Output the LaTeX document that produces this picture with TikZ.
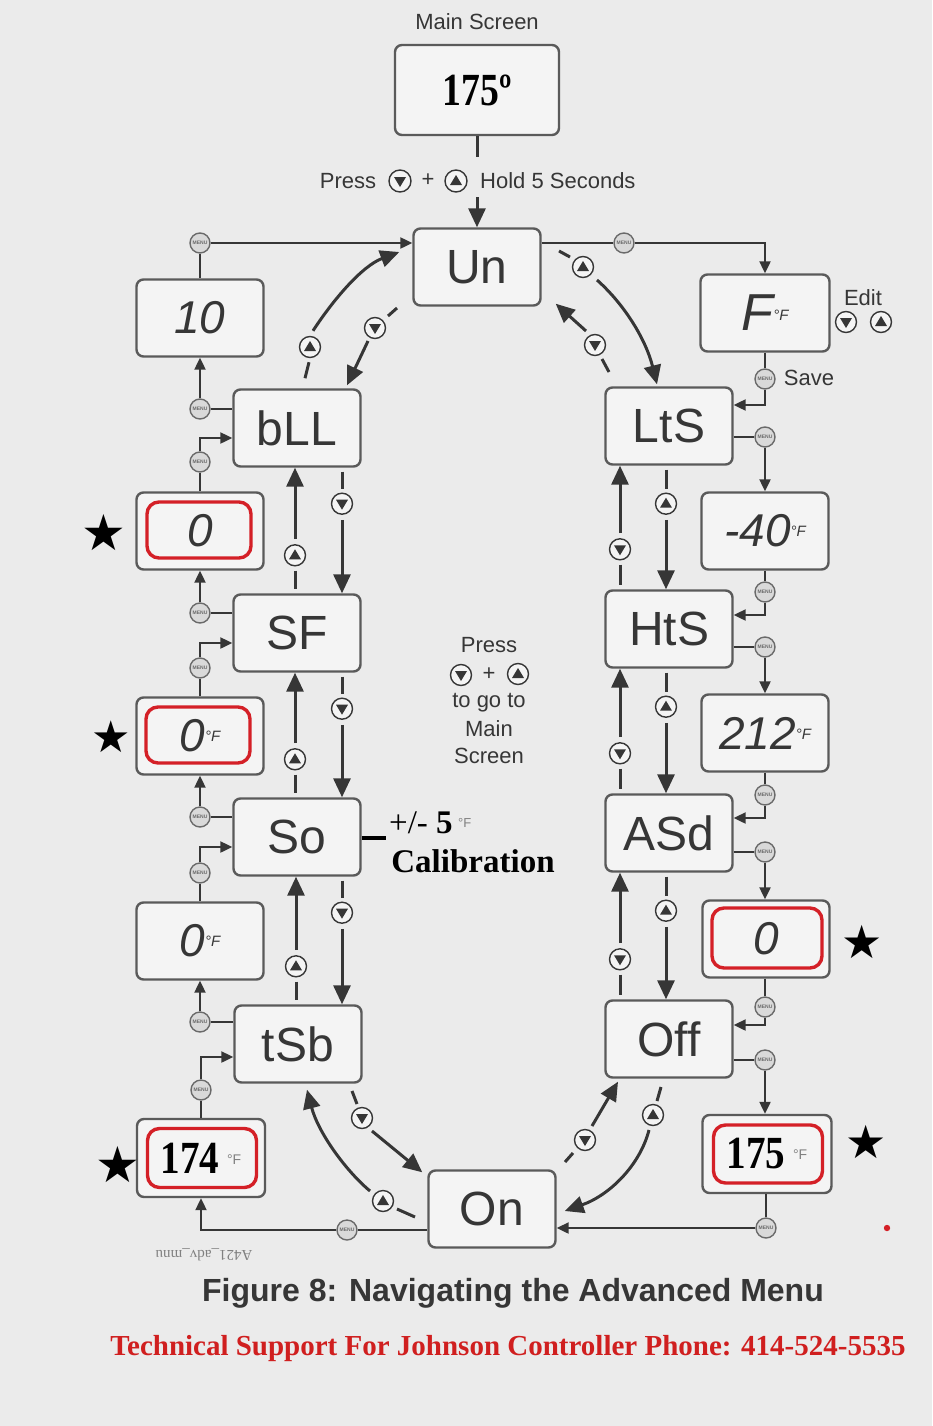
\documentclass[tikz,border=0pt]{standalone}
\usepackage{fontspec}
\setmainfont{Liberation Serif}
\setsansfont{Liberation Sans}
\newfontfamily\symfont{DejaVu Sans}
\usetikzlibrary{arrows.meta,calc}
\definecolor{ink}{HTML}{363636}
\definecolor{boxline}{HTML}{5A5A5A}
\definecolor{paper}{HTML}{EBEBEB}
\definecolor{boxfill}{HTML}{F4F4F4}
\definecolor{redbox}{HTML}{D42027}
\definecolor{escline}{HTML}{6A6A6A}
\definecolor{escfill}{HTML}{D9D9D9}
\definecolor{redtext}{HTML}{D01F1F}
\newcommand\degF{{\fontsize{15}{15}\selectfont\raisebox{10pt}{°F}}}
\newcommand\degFg{{\sffamily\mdseries\upshape\fontsize{14}{14}\selectfont\color{gray}\raisebox{9pt}{°F}}}
\tikzset{
  screen/.style={draw=boxline, line width=2.4pt, rounded corners=7pt, fill=boxfill,
    minimum width=127pt, minimum height=77pt, inner sep=0pt, text=ink,
    font=\sffamily\fontsize{48}{48}\selectfont},
  valbox/.style={screen, font=\sffamily\itshape\fontsize{46}{46}\selectfont},
  serifval/.style={screen, text=black, font=\rmfamily\bfseries\fontsize{46}{46}\selectfont},
  redframe/.style={draw=redbox, line width=3.4pt, rounded corners=12pt,
    minimum width=104pt, minimum height=56pt, inner sep=0pt},
  escicon/.style={circle, draw=escline, line width=1.4pt, fill=escfill, minimum size=20pt,
    inner sep=0pt, font=\sffamily\bfseries\fontsize{5}{5}\selectfont, text=escline},
  btn/.style={circle, draw=ink, line width=1.4pt, fill=boxfill, minimum size=21pt, inner sep=0pt},
  btnup/.style={btn, path picture={\fill[ink]
      ($(path picture bounding box.center)+(-6,4)$) --
      ($(path picture bounding box.center)+(6,4)$) --
      ($(path picture bounding box.center)+(0,-6)$) -- cycle;}},
  btndown/.style={btn, path picture={\fill[ink]
      ($(path picture bounding box.center)+(-6,-4)$) --
      ($(path picture bounding box.center)+(6,-4)$) --
      ($(path picture bounding box.center)+(0,6)$) -- cycle;}},
  bigarrow/.style={draw=ink, line width=3pt, -{Triangle[length=19pt,width=17pt]}},
  wire/.style={draw=ink, line width=2.2pt},
  wirearrow/.style={wire, -{Triangle[length=12pt,width=11pt]}},
  dashbit/.style={draw=ink, line width=3pt},
  lbl/.style={font=\sffamily\fontsize{22}{22}\selectfont, text=ink, inner sep=0pt},
  starmark/.style={font=\symfont\fontsize{50}{50}\selectfont, inner sep=0pt, text=black},
}
\newcommand\leftpair[2]{%
  \node[btnup] (#1#2u) at ($(#2.north)+(-2,-38)$) {};
  \draw[bigarrow, shorten <=5pt] (#1#2u.north) -- (#1.south -| #1#2u);
  \draw[dashbit, shorten <=4pt, shorten >=4pt] (#1#2u.south) -- (#2.north -| #1#2u);
  \node[btndown] (#1#2d) at ($(#1.south)+(45,36)$) {};
  \draw[dashbit, shorten <=4pt, shorten >=4pt] (#1.south -| #1#2d) -- (#1#2d.north);
  \draw[bigarrow, shorten <=5pt] (#1#2d.south) -- (#2.north -| #1#2d);
}
\newcommand\rightpair[2]{%
  \node[btndown] (#1#2u) at ($(#2.north)+(-49,-40)$) {};
  \draw[bigarrow, shorten <=5pt] (#1#2u.north) -- (#1.south -| #1#2u);
  \draw[dashbit, shorten <=4pt, shorten >=4pt] (#1#2u.south) -- (#2.north -| #1#2u);
  \node[btnup] (#1#2d) at ($(#1.south)+(-3,38)$) {};
  \draw[dashbit, shorten <=4pt, shorten >=4pt] (#1.south -| #1#2d) -- (#1#2d.north);
  \draw[bigarrow, shorten <=5pt] (#1#2d.south) -- (#2.north -| #1#2d);
}
\begin{document}
\begin{tikzpicture}[x=1pt,y=-1pt]
\fill[paper] (0,0) rectangle (932,1426);
\useasboundingbox (0,0) rectangle (932,1426);

% main screen
\node[lbl] (mslabel) at (477,22) {Main Screen};
\node[serifval, minimum width=164pt, minimum height=90pt] (main) at (477,90) {\scalebox{0.82}[1]{175º}};
\node[lbl] (presst) at (348,181) {Press};
\node[btndown, minimum size=22pt] (pdn) at (400,181) {};
\node[lbl] (pplus) at (428,180) {+};
\node[btnup, minimum size=22pt] (pup) at (456,181) {};
\node[lbl, anchor=west] (phold) at (480,181) {Hold 5 Seconds};
\coordinate (mtail) at (477,157);
\coordinate (ptail) at (477,197);
\draw[wire, line width=3pt] (main.south) -- (mtail);

% main column boxes
\node[screen] (un) at (477,267) {Un};
\node[screen] (bll) at (297,428) {bLL};
\node[screen] (sf) at (297,633) {SF};
\node[screen] (so) at (297,837) {So};
\node[screen] (tsb) at (298,1044) {tSb};
\node[screen] (onb) at (492,1209) {On};
\node[screen] (lts) at (669,426) {LtS};
\node[screen] (hts) at (669,629) {HtS};
\node[screen] (asd) at (669,833) {ASd};
\node[screen] (offb) at (669,1039) {Off};
\draw[bigarrow] (ptail) -- (un.north);

% left value boxes
\node[valbox] (v10) at (200,318) {10};
\node[valbox] (v0a) at (200,531) {0};
\node[redframe] (r0a) at (199,530) {};
\node[valbox] (v0b) at (200,736) {0\degF};
\node[redframe] (r0b) at (198,735) {};
\node[valbox] (v0c) at (200,941) {0\degF};
\node[serifval, minimum width=128pt, minimum height=78pt] (v174) at (201,1158) {\scalebox{0.85}[1]{174}\,\degFg};
\node[redframe, minimum width=109pt, minimum height=59pt] (r174) at (202,1158) {};

% right value boxes
\node[valbox, minimum width=129pt, font=\sffamily\itshape\fontsize{52}{52}\selectfont] (vF) at (765,313) {F\degF};
\node[valbox] (v40) at (765,531) {-40\degF};
\node[valbox] (v212) at (765,733) {212\degF};
\node[valbox] (v0r) at (766,939) {0};
\node[redframe, minimum width=110pt, minimum height=60pt] (r0r) at (767,938) {};
\node[serifval, minimum width=129pt, minimum height=78pt] (v175) at (767,1154) {\scalebox{0.85}[1]{175}\,\degFg};
\node[redframe, minimum width=109pt, minimum height=58pt] (r175) at (768,1154) {};

% stars
\node[starmark] (s1) at (104,533) {★};
\node[starmark, font=\symfont\fontsize{44}{44}\selectfont] (s2) at (111,737) {★};
\node[starmark, font=\symfont\fontsize{46}{46}\selectfont] (s3) at (862,942) {★};
\node[starmark] (s4) at (118,1165) {★};
\node[starmark, font=\symfont\fontsize{46}{46}\selectfont] (s5) at (866,1142) {★};

% Edit / Save
\node[lbl] (edit) at (863,298) {Edit};
\node[btndown] (edn) at (846,322) {};
\node[btnup] (eup) at (881,322) {};

% ---------------- right chain
\node[escicon] (eR0) at (624,243) {MENU};
\draw[wire] (un.east |- eR0) -- (eR0);
\draw[wirearrow] (eR0) -| (vF.north);
\node[escicon] (eSave) at (765,379) {MENU};
\node[lbl] (savet) at (809,378) {Save};
\draw[wire] (vF.south) -- (eSave);
\draw[wirearrow] (eSave) |- ($(lts.east)+(0,-21)$);
\node[escicon] (eL1) at (765,437) {MENU};
\draw[wire] (lts.east |- eL1) -- (eL1);
\draw[wirearrow] (eL1) -- (v40.north);
\node[escicon] (eL2) at (765,592) {MENU};
\draw[wire] (v40.south) -- (eL2);
\draw[wirearrow] (eL2) |- ($(hts.east)+(0,-14)$);
\node[escicon] (eH1) at (765,647) {MENU};
\draw[wire] (hts.east |- eH1) -- (eH1);
\draw[wirearrow] (eH1) -- (v212.north);
\node[escicon] (eH2) at (765,795) {MENU};
\draw[wire] (v212.south) -- (eH2);
\draw[wirearrow] (eH2) |- ($(asd.east)+(0,-15)$);
\node[escicon] (eA1) at (765,852) {MENU};
\draw[wire] (asd.east |- eA1) -- (eA1);
\draw[wirearrow] (eA1) -- (v0r.north -| eA1);
\node[escicon] (eA2) at (765,1007) {MENU};
\draw[wire] (v0r.south -| eA2) -- (eA2);
\draw[wirearrow] (eA2) |- ($(offb.east)+(0,-14)$);
\node[escicon] (eO1) at (765,1060) {MENU};
\draw[wire] (offb.east |- eO1) -- (eO1);
\draw[wirearrow] (eO1) -- (v175.north -| eO1);
\node[escicon] (eO2) at (766,1228) {MENU};
\draw[wire] (v175.south -| eO2) -- (eO2);
\draw[wirearrow] (eO2) -- (onb.east |- eO2);

% ---------------- left chain
\node[escicon] (eOn) at (347,1230) {MENU};
\draw[wire] (onb.west |- eOn) -- (eOn);
\draw[wirearrow] (eOn) -| (v174.south);
\node[escicon] (eT2) at (201,1090) {MENU};
\draw[wire] (v174.north) -- (eT2);
\draw[wirearrow] (eT2) |- ($(tsb.west)+(0,13)$);
\node[escicon] (eT1) at (200,1022) {MENU};
\draw[wire] (tsb.west |- eT1) -- (eT1);
\draw[wirearrow] (eT1) -- (v0c.south);
\node[escicon] (eS2) at (200,873) {MENU};
\draw[wire] (v0c.north) -- (eS2);
\draw[wirearrow] (eS2) |- ($(so.west)+(0,10)$);
\node[escicon] (eS1) at (200,817) {MENU};
\draw[wire] (so.west |- eS1) -- (eS1);
\draw[wirearrow] (eS1) -- (v0b.south);
\node[escicon] (eF2) at (200,668) {MENU};
\draw[wire] (v0b.north) -- (eF2);
\draw[wirearrow] (eF2) |- ($(sf.west)+(0,10)$);
\node[escicon] (eF1) at (200,613) {MENU};
\draw[wire] (sf.west |- eF1) -- (eF1);
\draw[wirearrow] (eF1) -- (v0a.south);
\node[escicon] (eB2) at (200,462) {MENU};
\draw[wire] (v0a.north) -- (eB2);
\draw[wirearrow] (eB2) |- ($(bll.west)+(0,10)$);
\node[escicon] (eB1) at (200,409) {MENU};
\draw[wire] (bll.west |- eB1) -- (eB1);
\draw[wirearrow] (eB1) -- (v10.south);
\node[escicon] (eTop) at (200,243) {MENU};
\draw[wire] (v10.north) -- (eTop);
\draw[wirearrow] (eTop) -- (un.west |- eTop);

% ---------------- vertical pairs
\leftpair{bll}{sf}
\leftpair{sf}{so}
\leftpair{so}{tsb}
\rightpair{lts}{hts}
\rightpair{hts}{asd}
\rightpair{asd}{offb}

% ---------------- curved arrows: Un - bLL
\node[btnup] (cb1) at (310,347) {};
\draw[dashbit] ($(cb1.south)+(-1,4)$) -- ($(cb1.south)+(-5,20)$);
\draw[bigarrow] ($(cb1.north)+(3,-5)$) .. controls (333,300) and (362,266) .. ($(un.west)+(-13,-15)$);
\node[btndown] (cb2) at (375,328) {};
\draw[dashbit] ($(cb2)+(13,-12)$) -- ($(cb2)+(22,-20)$);
\draw[bigarrow] ($(cb2)+(-7,13)$) -- ($(bll.north)+(50,-3)$);

% Un - LtS
\node[btnup] (cr1) at (583,267) {};
\draw[dashbit] ($(cr1)+(-13,-10)$) -- ($(cr1)+(-24,-16)$);
\draw[bigarrow] ($(cr1)+(14,13)$) .. controls (625,305) and (646,340) .. ($(lts.north)+(-12,-2)$);
\node[btndown] (cr2) at (595,345) {};
\draw[dashbit] ($(cr2)+(7,14)$) -- ($(cr2)+(14,27)$);
\draw[bigarrow] ($(cr2)+(-9,-14)$) -- ($(un.south east)+(14,-3)$);

% tSb - On
\node[btnup] (cl1) at (383,1201) {};
\draw[dashbit] ($(cl1)+(14,8)$) -- ($(cl1)+(32,16)$);
\draw[bigarrow] ($(cl1)+(-13,-10)$) .. controls (345,1170) and (318,1132) .. ($(tsb.south)+(9,6)$);
\node[btndown] (cl2) at (362,1118) {};
\draw[dashbit] ($(cl2)+(-5,-14)$) -- ($(cl2)+(-10,-27)$);
\draw[bigarrow] ($(cl2)+(10,13)$) -- ($(onb.north west)+(-5,3)$);

% Off - On
\node[btndown] (cf1) at (585,1140) {};
\draw[dashbit] ($(cf1)+(-12,13)$) -- ($(cf1)+(-20,22)$);
\draw[bigarrow] ($(cf1)+(7,-14)$) -- ($(offb.south)+(-51,3)$);
\node[btnup] (cf2) at (653,1115) {};
\draw[dashbit] ($(cf2)+(4,-14)$) -- ($(cf2)+(8,-28)$);
\draw[bigarrow] ($(cf2)+(-4,15)$) .. controls (640,1165) and (610,1195) .. ($(onb.east)+(8,2)$);

% centre instructions
\node[lbl] (c1) at (489,645) {Press};
\node[btndown] (c2a) at (461,675) {};
\node[lbl] (c2b) at (489,674) {+};
\node[btnup] (c2c) at (518,674) {};
\node[lbl] (c3) at (489,703) {to go to};
\node[lbl] (c4) at (489,729) {Main};
\node[lbl] (c5) at (489,756) {Screen};

% calibration
\coordinate (calend) at (386,838);
\draw[line width=3.5pt, black] (so.east |- calend) -- (calend);
\node[inner sep=0pt, anchor=west, font=\rmfamily\fontsize{33}{33}\selectfont] (calt1) at (389,823) {+/- \textbf{5}\,{\sffamily\fontsize{13}{13}\selectfont\color{gray}\raisebox{6pt}{°F}}};
\node[inner sep=0pt, font=\rmfamily\bfseries\fontsize{33}{33}\selectfont] (calt2) at (473,861) {Calibration};

% footer
\node[inner sep=0pt, rotate=180, text=gray, font=\rmfamily\fontsize{15}{15}\selectfont] (fname) at (204,1255) {A421\_adv\_mnu};
\node[inner sep=0pt, text=ink, font=\sffamily\bfseries\fontsize{32}{32}\selectfont] (cap) at (513,1293) {Figure 8: Navigating the Advanced Menu};
\node[inner sep=0pt, text=redtext, font=\rmfamily\bfseries\fontsize{29}{29}\selectfont] (tech) at (508,1349) {Technical Support For Johnson Controller Phone: 414-524-5535};
\fill[redbox] (887,1228) circle (3.2);
\end{tikzpicture}
\end{document}
